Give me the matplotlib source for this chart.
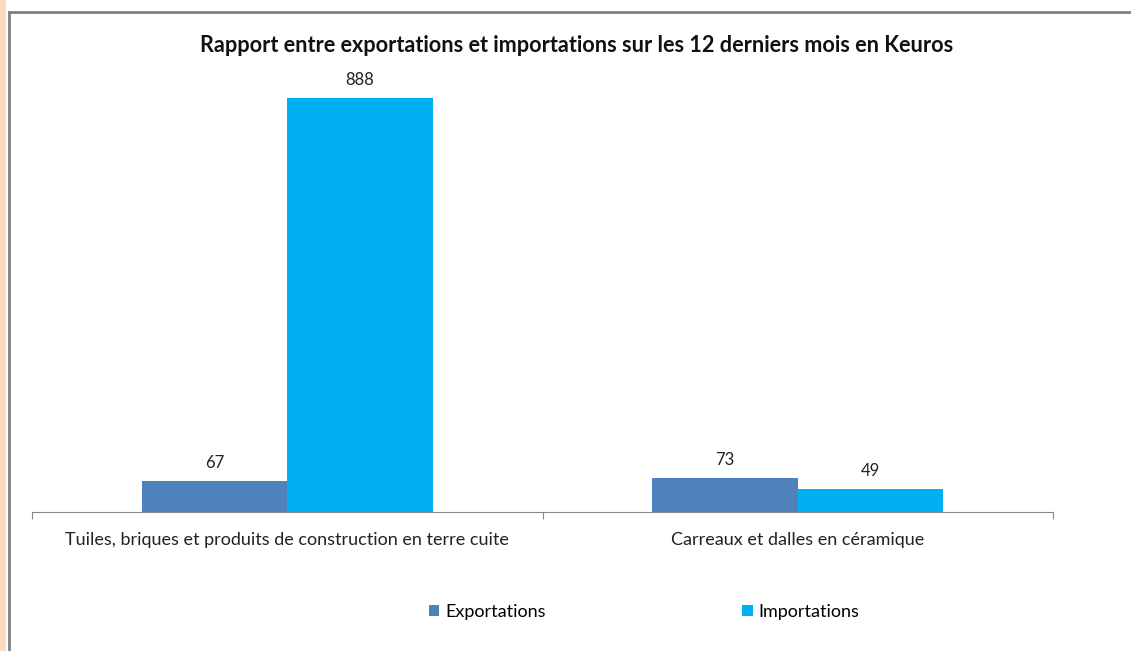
import numpy as np
import matplotlib.pyplot as plt
from matplotlib.patches import Rectangle
from matplotlib.lines import Line2D

categories = ["Tuiles, briques et produits de construction en terre cuite",
              "Carreaux et dalles en céramique"]
exportations = [67, 73]
importations = [888, 49]
series_names = ["Exportations", "Importations"]
title = "Rapport entre exportations et importations sur les 12 derniers mois en Keuros"

plt.rcParams['font.family'] = ['Lato', 'DejaVu Sans']

W, H = 1131, 651
fig = plt.figure(figsize=(W / 100, H / 100), dpi=100)

# page decoration: peach stripe and grey frame
fig.patches.append(Rectangle((0, 0), 6 / W, 1, transform=fig.transFigure,
                             facecolor="#fdd9bd", edgecolor="none"))
fig.lines.append(Line2D([9 / W, 9 / W], [0, 1 - 12 / H], transform=fig.transFigure,
                        color="#808080", lw=2))
fig.lines.append(Line2D([9 / W, 1], [1 - 12 / H, 1 - 12 / H], transform=fig.transFigure,
                        color="#808080", lw=2))

ax = fig.add_axes([32 / W, (H - 512) / H, 1021 / W, 466 / H])
x = np.arange(len(categories))
w = 0.285
b1 = ax.bar(x - w / 2, exportations, w, color="#4f81bd", label=series_names[0])
b2 = ax.bar(x + w / 2, importations, w, color="#00b0f0", label=series_names[1])

for bars in (b1, b2):
    for r in bars:
        ax.text(r.get_x() + r.get_width() / 2, r.get_height() + 22, f"{int(r.get_height())}",
                ha="center", va="bottom", fontsize=12, color="#222222")

ax.set_xlim(-0.5, 1.5)
ax.set_ylim(0, 1000)
ax.set_yticks([])
for s in ("top", "right", "left"):
    ax.spines[s].set_visible(False)
ax.spines["bottom"].set_color("#888888")
ax.set_xticks([-0.5, 0.5, 1.5])
ax.set_xticklabels([])
ax.tick_params(axis="x", length=5, color="#888888")
for xi, c in zip(x, categories):
    ax.text(xi, -60, c, ha="center", va="center", fontsize=13, color="#222222")

fig.text(577 / W, 1 - 46 / H, title, ha="center", va="center", fontsize=15.6,
         fontweight="bold", color="#111111")

fig.legend(loc="center", bbox_to_anchor=(644 / W, 1 - 612 / H), ncol=2, frameon=False,
           fontsize=13, handlelength=0.6, handleheight=0.6, handletextpad=0.3,
           columnspacing=10.9)

fig.savefig("out.png", dpi=100)
